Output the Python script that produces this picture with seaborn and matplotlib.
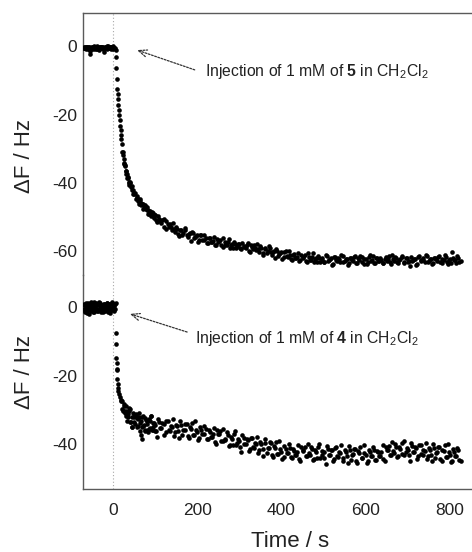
import matplotlib
matplotlib.use("Agg")
import matplotlib.pyplot as plt
import seaborn as sns
import pandas as pd

# ---------------- data ----------------
# Upper trace: injection of compound 5
TOP_BASE_T = [-70, -68, -66, -64, -62, -60, -58, -56, -54, -52, -50, -48, -46, -44, -42, -40,
              -38, -36, -34, -32, -30, -28, -26, -24, -22, -20, -18, -16, -14, -12, -10, -8,
              -6, -4, -2, 0, 2, 4]
TOP_BASE_Y = [-0.3, -0.5, -0.6, -0.1, -0.2, -0.7, -0.8, -0.3, -2.2, -0.4, -0.1, -0.6, -0.7, -0.2,
              -0.4, -0.9, 0.1, -0.3, -0.6, -0.5, -0.3, -0.1, -0.2, -0.6, -1.7, -0.4, -0.5, -0.2,
              0.2, -0.6, -0.4, -0.3, -0.1, -0.7, -0.3, 0.1, -0.6, -0.4]
TOP_BASE2_T = [-69, -67, -65, -63, -61, -59, -57, -55, -53, -51, -49, -47, -45, -43, -41, -39,
               -37, -35, -33, -31, -29, -27, -25, -23, -21, -19, -17, -15, -13, -11, -9, -7,
               -5, -3, -1, 1, 3]
TOP_BASE2_Y = [-0.5, -0.2, -0.9, -0.4, -0.1, -0.6, -0.3, -1.4, -0.5, -0.2, -0.7, -0.4, 0.0,
               -0.6, -0.3, -0.8, -0.2, -0.5, -1.1, -0.3, -0.6, -0.1, -0.4, -0.7, -0.2, -0.5,
               -0.3, -0.9, -0.4, 0.1, -0.5, -0.2, -0.6, -0.3, -0.8, -0.1, -0.5]
TOP_DROP_T = [6, 7, 8, 9, 10, 11, 12, 13, 14, 15, 16, 17, 18, 19, 20]
TOP_DROP_Y = [-1.2, -3.2, -6.5, -9.5, -12.4, -13.9, -15.5, -17.3, -18.8, -20.2, -21.7, -23.2,
              -24.6, -26.0, -27.3]
TOP_DECAY_T = [21, 23, 25, 27, 29, 31, 33, 35, 37, 39, 41, 44, 47, 50, 53, 56, 59, 62, 65, 68,
               71, 74, 77, 80, 83, 86, 89, 92, 95, 98]
TOP_DECAY_Y = [-28.6, -30.9, -32.9, -34.6, -35.0, -37.3, -37.5, -38.2, -39.7, -40.0, -40.1,
               -42.0, -42.1, -43.4, -42.9, -44.4, -44.7, -46.1, -45.4, -46.3, -46.3, -47.4,
               -46.9, -48.1, -48.1, -49.1, -48.5, -49.3, -48.8, -50.2]
TOP_DECAY2_T = [22, 24, 26, 28, 30, 32, 34, 36, 38, 40, 42, 45, 48, 51, 54, 57, 60, 63, 66, 69,
                72, 75, 78, 81, 84, 87, 90, 93, 96, 99]
TOP_DECAY2_Y = [-30.9, -31.7, -34.3, -34.7, -36.4, -36.5, -38.6, -38.6, -40.5, -39.7, -41.2,
                -41.0, -43.2, -43.0, -44.7, -43.9, -45.3, -44.6, -46.5, -46.1, -47.8, -46.6,
                -47.8, -47.2, -49.0, -48.2, -49.8, -48.5, -49.8, -49.3]

TAIL_T = [100, 105, 110, 115, 120, 125, 130, 135, 140, 145,
          150, 155, 160, 165, 170, 175, 180, 185, 190, 195,
          200, 205, 210, 215, 220, 225, 230, 235, 240, 245,
          250, 255, 260, 265, 270, 275, 280, 285, 290, 295,
          300, 305, 310, 315, 320, 325, 330, 335, 340, 345,
          350, 355, 360, 365, 370, 375, 380, 385, 390, 395,
          400, 405, 410, 415, 420, 425, 430, 435, 440, 445,
          450, 455, 460, 465, 470, 475, 480, 485, 490, 495,
          500, 505, 510, 515, 520, 525, 530, 535, 540, 545,
          550, 555, 560, 565, 570, 575, 580, 585, 590, 595,
          600, 605, 610, 615, 620, 625, 630, 635, 640, 645,
          650, 655, 660, 665, 670, 675, 680, 685, 690, 695,
          700, 705, 710, 715, 720, 725, 730, 735, 740, 745,
          750, 755, 760, 765, 770, 775, 780, 785, 790, 795,
          800, 805, 810, 815, 820, 825]
TAIL2_T = [102, 107, 112, 117, 122, 127, 132, 137, 142, 147,
           152, 157, 162, 167, 172, 177, 182, 187, 192, 197,
           202, 207, 212, 217, 222, 227, 232, 237, 242, 247,
           252, 257, 262, 267, 272, 277, 282, 287, 292, 297,
           302, 307, 312, 317, 322, 327, 332, 337, 342, 347,
           352, 357, 362, 367, 372, 377, 382, 387, 392, 397,
           402, 407, 412, 417, 422, 427, 432, 437, 442, 447,
           452, 457, 462, 467, 472, 477, 482, 487, 492, 497,
           502, 507, 512, 517, 522, 527, 532, 537, 542, 547,
           552, 557, 562, 567, 572, 577, 582, 587, 592, 597,
           602, 607, 612, 617, 622, 627, 632, 637, 642, 647,
           652, 657, 662, 667, 672, 677, 682, 687, 692, 697,
           702, 707, 712, 717, 722, 727, 732, 737, 742, 747,
           752, 757, 762, 767, 772, 777, 782, 787, 792, 797,
           802, 807, 812, 817, 822]
TOP_TAIL_Y = [-49.4, -51.4, -50.7, -51.7, -50.6, -53.4, -52.1, -52.0, -53.7, -53.5,
              -52.8, -55.0, -53.8, -55.2, -53.3, -55.2, -55.0, -56.9, -54.8, -55.9,
              -55.4, -56.8, -55.2, -56.8, -56.3, -57.7, -56.2, -57.3, -55.8, -58.1,
              -57.3, -56.6, -58.7, -57.3, -58.3, -56.4, -58.2, -59.0, -57.8, -58.6,
              -57.8, -59.4, -58.4, -59.1, -57.7, -60.2, -58.7, -58.3, -59.8, -59.4,
              -58.5, -60.5, -59.3, -60.5, -58.5, -60.4, -60.2, -62.0, -59.9, -60.9,
              -60.4, -61.8, -60.1, -61.7, -61.1, -62.5, -60.9, -62.0, -60.5, -62.7,
              -61.9, -61.2, -63.2, -61.8, -62.7, -60.7, -62.4, -63.2, -61.9, -62.7,
              -63.2, -61.1, -62.8, -62.4, -64.1, -61.8, -62.7, -62.0, -63.3, -61.5,
              -63.0, -62.3, -63.6, -61.9, -62.9, -61.3, -63.4, -62.5, -61.7, -63.7,
              -62.2, -63.1, -61.0, -62.7, -63.4, -62.1, -62.8, -61.9, -63.4, -62.3,
              -62.9, -61.4, -63.8, -62.2, -61.7, -63.1, -62.6, -61.6, -63.5, -62.1,
              -63.2, -64.5, -62.8, -62.4, -64.1, -61.8, -62.7, -62.0, -63.3, -61.5,
              -63.0, -62.3, -63.6, -61.9, -62.9, -61.3, -63.4, -62.5, -61.7, -63.7,
              -62.2, -60.4, -62.7, -63.4, -62.1, -62.8]
TOP_TAIL2_Y = [-50.8, -49.6, -51.2, -50.9, -53.0, -51.3, -52.9, -52.8, -51.9, -54.3,
               -53.5, -55.6, -53.7, -54.7, -53.9, -56.0, -54.8, -54.3, -56.2, -55.6,
               -57.3, -55.4, -56.6, -55.2, -57.5, -56.2, -57.4, -57.0, -58.2, -56.5,
               -57.1, -58.2, -56.2, -58.1, -57.2, -59.0, -57.9, -57.2, -59.1, -58.0,
               -59.2, -57.6, -58.9, -58.3, -60.1, -58.1, -59.5, -59.1, -58.0, -60.2,
               -59.2, -61.1, -59.2, -60.0, -59.1, -61.2, -60.0, -59.4, -61.3, -60.6,
               -62.3, -60.4, -61.5, -60.1, -62.3, -61.0, -62.1, -61.7, -62.9, -61.1,
               -61.7, -62.8, -60.7, -62.6, -61.6, -63.3, -62.1, -61.4, -63.2, -62.1,
               -63.2, -61.5, -62.7, -62.0, -63.7, -61.6, -62.9, -62.4, -61.2, -63.3,
               -62.2, -64.0, -61.9, -62.6, -61.6, -63.5, -62.1, -61.4, -63.1, -62.3,
               -63.8, -61.8, -62.8, -61.3, -63.4, -62.0, -63.0, -62.5, -63.6, -61.7,
               -62.2, -63.2, -61.1, -62.9, -61.9, -63.5, -62.3, -61.5, -63.3, -62.1,
               -63.0, -61.7, -62.5, -62.2, -63.9, -61.4, -62.8, -62.6, -61.0, -63.1,
               -62.4, -63.8, -62.1, -62.4, -61.8, -63.3, -62.3, -61.2, -63.3, -62.5,
               -63.6, -61.9, -62.6, -61.5, -63.2]

# Lower trace: injection of compound 4
BOT_BASE_T = [-70, -68, -66, -64, -62, -60, -58, -56, -54, -52, -50, -48, -46, -44, -42, -40,
              -38, -36, -34, -32, -30, -28, -26, -24, -22, -20, -18, -16, -14, -12, -10, -8,
              -6, -4, -2, 0, 2, 4, 6]
BOT_BASE_Y = [-0.5, 0.9, -1.4, 0.3, -0.8, 1.2, -1.9, 0.1, 0.7, -1.1, 0.4, -0.3, 1.5, -1.6, 0.2,
              -0.7, 1.0, -1.2, 0.5, -0.2, 1.3, -1.5, 0.6, -0.9, 0.8, -0.4, -1.3, 0.6, 1.1, -0.6,
              0.0, -1.8, 0.9, -0.2, 1.4, -1.0, 0.3, -0.5, 1.2]
BOT_BASE2_T = [-69, -67, -65, -63, -61, -59, -57, -55, -53, -51, -49, -47, -45, -43, -41, -39,
               -37, -35, -33, -31, -29, -27, -25, -23, -21, -19, -17, -15, -13, -11, -9, -7,
               -5, -3, -1, 1, 3, 5]
BOT_BASE2_Y = [0.6, -1.2, 1.1, -0.4, -1.7, 0.8, 0.2, -0.9, 1.4, -0.6, 0.3, -1.5, 0.9, -0.1,
               1.2, -1.3, 0.5, -0.8, 1.6, -0.3, -1.1, 0.7, 0.0, -1.6, 1.0, 0.4, -0.7, 1.3,
               -1.4, 0.2, 0.9, -0.5, -1.0, 1.1, -0.2, 0.6, -1.2, 0.8]
BOT_DROP_T = [7, 7.5, 8, 8.5, 9, 9.5, 10, 11, 12, 13, 14, 16, 18]
BOT_DROP_Y = [-7.5, -10.8, -15.0, -16.2, -18.0, -18.5, -21.0, -22.5, -23.6, -24.5, -25.3, -26.4,
              -27.2]
BOT_DECAY_T = [20, 22, 25, 27, 30, 32, 35, 37, 40, 42, 45, 47, 50, 52, 55, 57, 60, 62, 65, 67,
               68, 70, 72, 75, 77, 80, 82, 85, 87, 90, 92, 95, 97]
BOT_DECAY_Y = [-27.4, -29.8, -30.4, -28.9, -30.4, -31.8, -32.0, -30.2, -29.9, -33.6, -35.0,
               -31.0, -32.2, -34.2, -31.6, -32.5, -34.6, -30.9, -33.9, -37.2, -38.6, -32.1,
               -34.8, -36.1, -32.3, -33.4, -35.9, -35.7, -33.2, -31.8, -36.0, -35.1, -33.7]
BOT_DECAY2_T = [21, 24, 26, 29, 31, 34, 36, 39, 41, 44, 46, 49, 51, 54, 56, 59, 61, 64, 66, 69,
                71, 74, 76, 79, 81, 84, 86, 89, 91, 94, 96, 99]
BOT_DECAY2_Y = [-27.5, -30.4, -28.2, -30.9, -28.9, -33.4, -31.2, -29.6, -33.6, -32.2, -35.0,
                -31.7, -33.6, -31.1, -35.0, -32.8, -32.1, -36.2, -33.4, -34.9, -31.8, -34.5,
                -36.0, -32.9, -34.2, -36.5, -32.6, -35.3, -31.9, -35.9, -33.8, -36.2]
BOT_TAIL_Y = [-34.4, -37.8, -33.5, -35.3, -34.0, -36.6, -33.2, -36.2, -34.9, -37.5,
              -34.3, -36.3, -33.3, -37.4, -35.8, -34.2, -38.3, -35.5, -37.2, -33.4,
              -36.6, -38.3, -35.8, -37.1, -35.5, -38.6, -36.6, -38.0, -35.2, -40.0,
              -37.0, -36.3, -39.2, -38.4, -36.6, -40.5, -37.9, -40.2, -36.3, -39.7,
              -39.0, -42.4, -38.2, -40.0, -38.7, -41.5, -38.1, -41.1, -40.0, -42.6,
              -39.4, -41.5, -38.5, -42.6, -41.1, -39.6, -43.8, -41.0, -42.8, -39.0,
              -42.2, -43.9, -41.4, -42.6, -41.0, -44.0, -41.9, -43.2, -40.3, -44.9,
              -41.8, -40.9, -43.6, -42.7, -40.7, -44.5, -41.7, -44.0, -40.0, -43.2,
              -42.4, -45.7, -41.4, -43.1, -41.7, -44.3, -40.8, -43.8, -42.5, -45.0,
              -41.7, -43.6, -40.5, -44.6, -42.9, -41.3, -45.4, -42.5, -44.1, -40.2,
              -43.3, -44.9, -42.3, -43.4, -41.7, -44.6, -42.2, -43.4, -40.3, -44.8,
              -41.6, -40.6, -43.2, -42.1, -40.0, -43.7, -40.8, -43.0, -39.1, -42.3,
              -41.6, -44.9, -40.6, -42.3, -41.0, -43.6, -40.2, -43.1, -41.9, -44.4,
              -41.1, -43.1, -40.0, -44.1, -42.4, -40.9, -44.9, -42.1, -43.8, -39.9,
              -43.1, -44.8, -42.2, -43.5, -41.8, -44.9]
BOT_TAIL2_Y = [-36.1, -32.7, -35.3, -33.8, -37.3, -33.3, -35.9, -34.8, -32.8, -36.6,
               -34.8, -38.2, -34.4, -35.9, -34.2, -37.7, -35.0, -33.8, -37.2, -35.9,
               -38.7, -35.0, -37.1, -34.6, -38.4, -36.0, -38.0, -37.0, -39.3, -36.0,
               -37.1, -39.0, -35.5, -38.9, -37.4, -40.3, -38.4, -37.0, -40.3, -38.4,
               -40.7, -37.3, -40.0, -38.5, -42.0, -38.2, -40.8, -39.7, -37.9, -41.7,
               -39.9, -43.4, -39.6, -41.1, -39.5, -43.1, -40.5, -39.3, -42.8, -41.5,
               -44.3, -40.6, -42.7, -40.1, -43.9, -41.4, -43.3, -42.2, -44.4, -40.9,
               -41.9, -43.6, -39.9, -43.2, -41.5, -44.3, -42.2, -40.8, -44.0, -41.9,
               -44.1, -40.6, -43.2, -41.6, -45.0, -41.0, -43.5, -42.4, -40.4, -44.1,
               -42.2, -45.5, -41.6, -43.1, -41.3, -44.8, -42.1, -40.8, -44.1, -42.7,
               -45.4, -41.6, -43.6, -40.9, -44.6, -42.0, -43.6, -42.4, -44.4, -40.8,
               -41.7, -43.3, -39.5, -42.6, -40.8, -43.5, -41.3, -39.8, -43.1, -41.0,
               -43.3, -39.8, -42.4, -40.8, -44.3, -40.3, -42.9, -41.7, -39.8, -43.5,
               -41.6, -45.0, -41.1, -42.6, -40.8, -44.4, -41.6, -40.4, -43.8, -42.4,
               -45.2, -41.5, -43.5, -41.0, -44.7]

X_TICKS = [0, 200, 400, 600, 800]
TOP_Y_TICKS = [0, -20, -40, -60]
BOT_Y_TICKS = [0, -20, -40]
TOP_NOTE = "Injection of 1 mM of $\\mathbf{5}$ in CH$_2$Cl$_2$"
BOT_NOTE = "Injection of 1 mM of $\\mathbf{4}$ in CH$_2$Cl$_2$"
Y_LABEL = "\u0394F / Hz"
X_LABEL = "Time / s"

# ---------------- style ----------------
sns.set_style("white")
plt.rcParams["font.family"] = ["Liberation Sans", "DejaVu Sans"]
plt.rcParams["mathtext.fontset"] = "custom"
plt.rcParams["mathtext.rm"] = "Liberation Sans"
plt.rcParams["mathtext.it"] = "Liberation Sans:italic"
plt.rcParams["mathtext.bf"] = "Liberation Sans:bold"
plt.rcParams["axes.unicode_minus"] = False


def frame(parts):
    ts, ys = [], []
    for t, y in parts:
        ts += list(t)
        ys += list(y)
    return pd.DataFrame({"t": ts, "dF": ys})


top = frame([(TOP_BASE_T, TOP_BASE_Y), (TOP_BASE2_T, TOP_BASE2_Y), (TOP_DROP_T, TOP_DROP_Y),
             (TOP_DECAY_T, TOP_DECAY_Y), (TOP_DECAY2_T, TOP_DECAY2_Y),
             (TAIL_T, TOP_TAIL_Y), (TAIL2_T, TOP_TAIL2_Y)])
bot = frame([(BOT_BASE_T, BOT_BASE_Y), (BOT_BASE2_T, BOT_BASE2_Y), (BOT_DROP_T, BOT_DROP_Y),
             (BOT_DECAY_T, BOT_DECAY_Y), (BOT_DECAY2_T, BOT_DECAY2_Y),
             (TAIL_T, BOT_TAIL_Y), (TAIL2_T, BOT_TAIL2_Y)])

W, H = 472, 552
fig = plt.figure(figsize=(W / 100, H / 100), dpi=100)


def rect(l, t, r, b):
    return [l / W, 1 - b / H, (r - l) / W, (b - t) / H]


ax1 = fig.add_axes(rect(83, 13, 497, 275))
ax2 = fig.add_axes(rect(83, 275, 497, 489))

SPINE = "#5a5a5a"
for ax, df in ((ax1, top), (ax2, bot)):
    sns.scatterplot(data=df, x="t", y="dF", ax=ax, color="black", s=11,
                    linewidth=0, legend=False, zorder=3)
    ax.axvline(0, color="#a8a8a8", lw=0.8, ls=(0, (1, 2)), zorder=1)
    ax.set_xlim(-71.2, 911.6)
    ax.set_xlabel("")
    ax.set_ylabel("")
    ax.patch.set_alpha(0)
    for s in ax.spines.values():
        s.set_color(SPINE)
        s.set_linewidth(1.0)
    ax.tick_params(direction="in", length=3.5, width=0.8, color=SPINE,
                   labelsize=12.5, labelcolor="#222222")
    ax.tick_params(axis="y", pad=4.3)

ax1.set_ylim(-67.0, 9.76)
ax2.set_ylim(-53.1, 9.34)
ax1.set_yticks(TOP_Y_TICKS)
ax2.set_yticks(BOT_Y_TICKS)
ax1.set_xticks([])
ax2.set_xticks(X_TICKS)
ax2.tick_params(axis="x", pad=10)

ax1.spines["bottom"].set_visible(False)
ax1.spines["right"].set_visible(False)
ax2.spines["top"].set_visible(False)
ax2.spines["right"].set_visible(False)

arrow = dict(arrowstyle="->,head_length=0.6,head_width=0.25", ls=(0, (1.5, 1.2)),
             color="#333333", lw=0.9, shrinkA=0, shrinkB=0)
ax1.annotate("", xy=(57, -1.1), xytext=(194, -6.9), arrowprops=arrow)
ax1.text(218, -8.7, TOP_NOTE, ha="left", va="baseline", fontsize=11.3, color="#222222")
ax2.annotate("", xy=(40, -2.0), xytext=(176, -7.3), arrowprops=arrow)
ax2.text(195, -10.4, BOT_NOTE, ha="left", va="baseline", fontsize=11.3, color="#222222")

fig.text(24 / W, 1 - 156 / H, Y_LABEL, rotation=90, ha="center", va="center",
         fontsize=16, color="#222222")
fig.text(24 / W, 1 - 372 / H, Y_LABEL, rotation=90, ha="center", va="center",
         fontsize=16, color="#222222")
fig.text(290 / W, 1 - 547 / H, X_LABEL, ha="center", va="baseline",
         fontsize=16, color="#222222")

fig.savefig("out.png", dpi=100)
